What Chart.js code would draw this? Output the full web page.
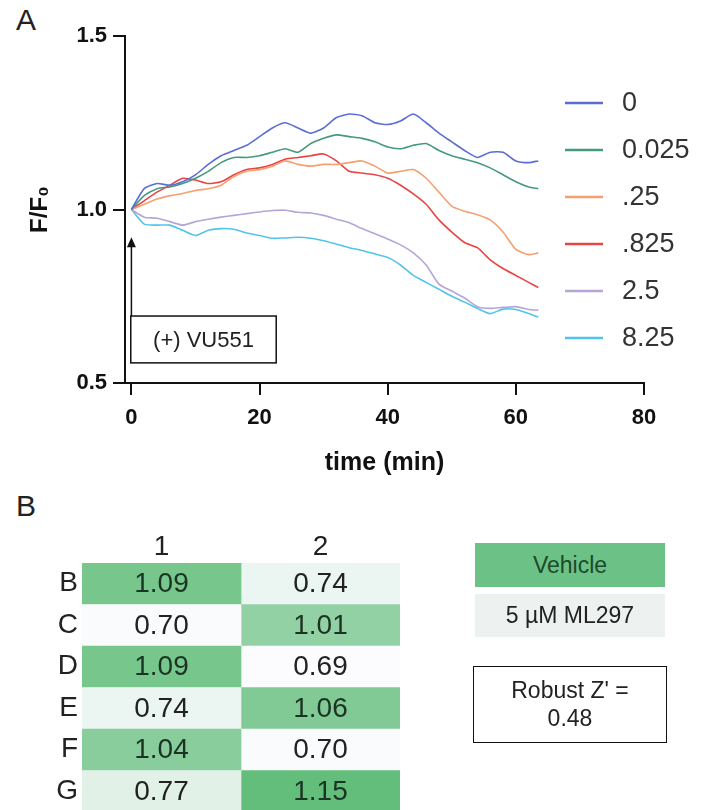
<!DOCTYPE html>
<html>
<head>
<meta charset="utf-8">
<script src="https://cdn.jsdelivr.net/npm/chart.js@4.4.0/dist/chart.umd.min.js"></script>
<style>
  html, body { margin: 0; padding: 0; background: #fff; }
  body { width: 709px; height: 810px; position: relative; overflow: hidden;
         font-family: "Liberation Sans", Arial, sans-serif; }
  .panel { position: absolute; font-size: 30px; line-height: 1; color: #222; }
  #chartA { position: absolute; left: 0; top: 0; }
  #chartB { position: absolute; left: 0; top: 520px; }
  .box { position: absolute; text-align: center; font-size: 23px; box-sizing: border-box; }
</style>
</head>
<body>
<div class="panel" style="left:16px;top:5px">A</div>
<div class="panel" style="left:16px;top:491px">B</div>
<canvas id="chartA" width="709" height="480"></canvas>
<canvas id="chartB" width="709" height="292"></canvas>
<div class="box" style="left:475px;top:543px;width:190px;height:44px;line-height:44px;background:#6cc187;color:#1c4a2a">Vehicle</div>
<div class="box" style="left:475px;top:594px;width:190px;height:43px;line-height:43px;background:#edf2f1;color:#222">5 µM ML297</div>
<div class="box" style="left:473px;top:666px;width:194px;height:77px;border:1.5px solid #111;padding-top:9px;line-height:28px;color:#222">Robust Z' =<br>0.48</div>

<script>
(function () {
  'use strict';
  var FONT = '"Liberation Sans", Arial, sans-serif';

  // ---- panel A data ----
  var times = [0, 2, 4, 6, 8, 10, 12, 14, 16, 18, 20, 22, 24, 26, 28, 30, 32,
               34, 36, 38, 40, 42, 44, 46, 48, 50, 52, 54, 56, 58, 60, 62, 63.5];
  var conc0 = [1.00, 1.06, 1.075, 1.07, 1.08, 1.10, 1.13, 1.155, 1.17, 1.185, 1.21, 1.235, 1.25, 1.235, 1.22, 1.235, 1.265,
               1.275, 1.27, 1.25, 1.245, 1.255, 1.275, 1.25, 1.22, 1.195, 1.17, 1.15, 1.165, 1.165, 1.14, 1.135, 1.14];
  var conc0025 = [1.00, 1.04, 1.06, 1.065, 1.075, 1.09, 1.11, 1.135, 1.15, 1.15, 1.155, 1.165, 1.175, 1.165, 1.19, 1.205, 1.215,
                  1.21, 1.205, 1.195, 1.18, 1.175, 1.185, 1.19, 1.17, 1.155, 1.145, 1.135, 1.12, 1.10, 1.08, 1.065, 1.06];
  var conc025 = [1.00, 1.015, 1.03, 1.04, 1.046, 1.055, 1.06, 1.07, 1.095, 1.11, 1.115, 1.125, 1.14, 1.13, 1.125, 1.13, 1.13,
                 1.135, 1.14, 1.125, 1.105, 1.11, 1.115, 1.09, 1.05, 1.01, 0.995, 0.985, 0.97, 0.935, 0.885, 0.87, 0.875];
  var conc0825 = [1.00, 1.025, 1.05, 1.07, 1.09, 1.085, 1.075, 1.08, 1.10, 1.115, 1.12, 1.13, 1.145, 1.15, 1.155, 1.16, 1.14,
                  1.11, 1.105, 1.10, 1.09, 1.07, 1.045, 1.015, 0.97, 0.935, 0.905, 0.89, 0.855, 0.83, 0.81, 0.79, 0.775];
  var conc25 = [1.00, 0.978, 0.975, 0.965, 0.955, 0.965, 0.972, 0.978, 0.983, 0.988, 0.993, 0.997, 0.998, 0.992, 0.99, 0.983, 0.972,
                0.962, 0.945, 0.93, 0.915, 0.898, 0.875, 0.84, 0.785, 0.765, 0.745, 0.72, 0.715, 0.718, 0.72, 0.712, 0.71];
  var conc825 = [1.00, 0.958, 0.955, 0.955, 0.94, 0.925, 0.94, 0.945, 0.943, 0.932, 0.925, 0.917, 0.918, 0.92, 0.917, 0.91, 0.90,
                 0.89, 0.882, 0.872, 0.862, 0.84, 0.81, 0.79, 0.77, 0.75, 0.733, 0.715, 0.70, 0.713, 0.712, 0.70, 0.69];
  var seriesValues = [conc0, conc0025, conc025, conc0825, conc25, conc825];
  var seriesLabels = ['0', '0.025', '.25', '.825', '2.5', '8.25'];
  var seriesColors = ['#5a6ed4', '#449a80', '#f5a070', '#ea4343', '#b6a6d8', '#52c4ea'];
  var xTicks = [0, 20, 40, 60, 80];
  var yTicks = [0.5, 1.0, 1.5];

  // ---- panel B data ----
  var rowLabels = ['B', 'C', 'D', 'E', 'F', 'G'];
  var colLabels = ['1', '2'];
  var col1 = [1.09, 0.70, 1.09, 0.74, 1.04, 0.77];
  var col2 = [0.74, 1.01, 0.69, 1.06, 0.70, 1.15];

  var sideLegend = {
    id: 'sideLegend',
    afterDatasetsDraw: function (chart) {
      var ctx = chart.ctx;
      ctx.save();
      ctx.font = '27px ' + FONT;
      ctx.textBaseline = 'middle';
      chart.data.datasets.forEach(function (ds, i) {
        var y = 103 + i * 47;
        ctx.strokeStyle = ds.borderColor;
        ctx.lineWidth = 2.5;
        ctx.beginPath();
        ctx.moveTo(565, y);
        ctx.lineTo(603, y);
        ctx.stroke();
        ctx.fillStyle = '#333';
        ctx.fillText(ds.label, 622, y + 1);
      });
      ctx.restore();
    }
  };

  // arrow + note box for the compound addition
  var addNote = {
    id: 'addNote',
    afterDraw: function (chart) {
      var xs = chart.scales.x, ys = chart.scales.y, ctx = chart.ctx;
      var ax = xs.getPixelForValue(0);
      var tip = ys.getPixelForValue(0.92);
      var top = ys.getPixelForValue(0.693), bot = ys.getPixelForValue(0.558);
      var left = xs.getPixelForValue(-0.1), right = xs.getPixelForValue(22.6);
      ctx.save();
      ctx.strokeStyle = '#111';
      ctx.fillStyle = '#111';
      ctx.lineWidth = 1.5;
      ctx.beginPath();
      ctx.moveTo(ax, top);
      ctx.lineTo(ax, tip + 8);
      ctx.stroke();
      ctx.beginPath();
      ctx.moveTo(ax, tip);
      ctx.lineTo(ax - 4.5, tip + 10);
      ctx.lineTo(ax + 4.5, tip + 10);
      ctx.closePath();
      ctx.fill();
      ctx.fillStyle = '#fff';
      ctx.fillRect(left, top, right - left, bot - top);
      ctx.strokeRect(left, top, right - left, bot - top);
      ctx.fillStyle = '#222';
      ctx.font = '22px ' + FONT;
      ctx.textAlign = 'center';
      ctx.textBaseline = 'middle';
      ctx.fillText('(+) VU551', (left + right) / 2, (top + bot) / 2 + 1);
      ctx.restore();
    }
  };

  new Chart(document.getElementById('chartA'), {
    type: 'line',
    data: {
      datasets: seriesValues.map(function (vals, i) {
        return {
          label: seriesLabels[i],
          data: times.map(function (t, j) { return { x: t, y: vals[j] }; }),
          borderColor: seriesColors[i],
          borderWidth: 1.6,
          pointRadius: 0,
          tension: 0.2,
          fill: false
        };
      })
    },
    options: {
      responsive: false,
      animation: false,
      layout: { padding: { left: 0, right: 65, top: 36, bottom: 1 } },
      plugins: { legend: { display: false }, tooltip: { enabled: false } },
      scales: {
        x: {
          type: 'linear', min: -1, max: 80,
          afterBuildTicks: function (s) { s.ticks = xTicks.map(function (v) { return { value: v }; }); },
          afterFit: function (s) { s.height = 96; },
          grid: { display: true, drawOnChartArea: false, drawTicks: true, tickLength: 12, color: '#111', lineWidth: 2 },
          border: { display: true, color: '#111', width: 2 },
          ticks: { color: '#111', padding: 10, maxRotation: 0, font: { family: FONT, size: 22, weight: 'bold' } },
          title: { display: true, text: 'time (min)', color: '#111', padding: { top: 4, bottom: 1 },
                   font: { family: FONT, size: 25, weight: 'bold' } }
        },
        y: {
          type: 'linear', min: 0.5, max: 1.5,
          afterBuildTicks: function (s) { s.ticks = yTicks.map(function (v) { return { value: v }; }); },
          afterFit: function (s) { s.width = 125; },
          grid: { display: true, drawOnChartArea: false, drawTicks: true, tickLength: 12, color: '#111', lineWidth: 2 },
          border: { display: true, color: '#111', width: 2 },
          ticks: { color: '#111', padding: 6, font: { family: FONT, size: 22, weight: 'bold' },
                   callback: function (v) { return v.toFixed(1); } },
          title: { display: true, text: 'F/F₀', color: '#111', padding: { top: 26, bottom: 0 },
                   font: { family: FONT, size: 24, weight: 'bold' } }
        }
      }
    },
    plugins: [sideLegend, addNote]
  });

  // white -> green colour scale, like the spreadsheet conditional format
  var allVals = col1.concat(col2);
  var vMin = Math.min.apply(null, allVals), vMax = Math.max.apply(null, allVals);
  function cellColor(v) {
    var f = (v - vMin) / (vMax - vMin);
    var lo = [252, 252, 255], hi = [99, 190, 123];
    var c = lo.map(function (a, k) { return Math.round(a + (hi[k] - a) * f); });
    return 'rgb(' + c.join(',') + ')';
  }

  var cellText = {
    id: 'cellText',
    afterDatasetsDraw: function (chart) {
      var ctx = chart.ctx;
      ctx.save();
      ctx.font = '28px ' + FONT;
      ctx.textAlign = 'center';
      ctx.textBaseline = 'middle';
      chart.data.datasets.forEach(function (ds, di) {
        var meta = chart.getDatasetMeta(di);
        meta.data.forEach(function (bar, i) {
          var v = ds.values[i];
          ctx.fillStyle = v > 0.9 ? '#1b3323' : '#222';
          ctx.fillText(v.toFixed(2), (bar.x + bar.base) / 2, bar.y + 1);
        });
      });
      ctx.restore();
    }
  };

  function noPad(s) { s.paddingTop = 0; s.paddingBottom = 0; s.paddingLeft = 0; s.paddingRight = 0; }

  new Chart(document.getElementById('chartB'), {
    type: 'bar',
    data: {
      labels: rowLabels,
      datasets: [col1, col2].map(function (vals, c) {
        return {
          label: colLabels[c],
          values: vals,
          data: vals.map(function () { return [c, c + 1]; }),
          backgroundColor: vals.map(cellColor),
          borderWidth: 0,
          borderSkipped: false,
          grouped: false,
          barPercentage: 1,
          categoryPercentage: 1
        };
      })
    },
    options: {
      indexAxis: 'y',
      responsive: false,
      animation: false,
      layout: { padding: { left: 0, right: 309, top: 0, bottom: 0 } },
      plugins: { legend: { display: false }, tooltip: { enabled: false } },
      scales: {
        x: {
          type: 'linear', position: 'top', min: 0, max: 2,
          afterBuildTicks: function (s) { s.ticks = [{ value: 0.5 }, { value: 1.5 }]; },
          afterFit: function (s) { s.height = 43; noPad(s); },
          grid: { display: false },
          border: { display: false },
          ticks: { color: '#222', padding: -9, font: { family: FONT, size: 28 },
                   callback: function (v) { return colLabels[Math.round(v - 0.5)]; } }
        },
        y: {
          type: 'category',
          afterFit: function (s) { s.width = 82; noPad(s); },
          grid: { display: false },
          border: { display: false },
          ticks: { color: '#222', padding: -4, font: { family: FONT, size: 28 } }
        }
      }
    },
    plugins: [cellText]
  });
})();
</script>
</body>
</html>
